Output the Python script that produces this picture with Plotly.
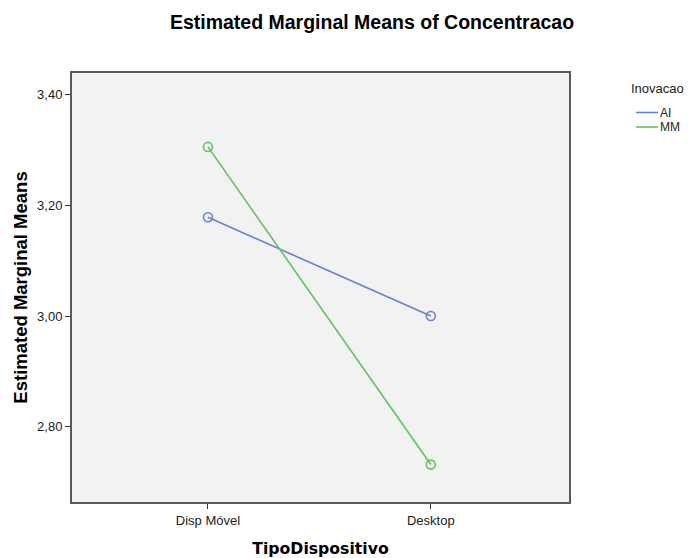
import plotly.graph_objects as go

# Estimated marginal means of Concentracao by device type and innovation group
categories = ["Disp Móvel", "Desktop"]
series_names = ["AI", "MM"]
series_values = {
    "AI": [3.178, 3.000],
    "MM": [3.305, 2.732],
}
series_colors = {"AI": "#6a7fd2", "MM": "#5cc85c"}
y_tick_values = [2.80, 3.00, 3.20, 3.40]
y_tick_labels = ["2,80", "3,00", "3,20", "3,40"]

W, H = 688, 558
ml, mr, mt, mb = 72, 119, 73, 56
pw, ph = W - ml - mr, H - mt - mb

SANS = "Liberation Sans, Arial"

fig = go.Figure()
for name in series_names:
    fig.add_trace(go.Scatter(
        x=[0, 1], y=series_values[name],
        mode="lines+markers", name=name, showlegend=False,
        line=dict(color=series_colors[name], width=1.6),
        marker=dict(symbol="circle-open", size=9, color=series_colors[name],
                    line=dict(width=1.6, color=series_colors[name])),
    ))

# Legend drawn as short line samples with labels, right of the plot area
def px_to_paper_x(px):
    return (px - ml) / pw

def px_to_paper_y(py):
    return 1 - (py - mt) / ph

annotations = [dict(
    text="Inovacao", x=px_to_paper_x(629), y=px_to_paper_y(88),
    xref="paper", yref="paper", xanchor="left", yanchor="middle",
    showarrow=False, font=dict(family=SANS, size=13, color="#222"),
)]
shapes = []
for i, name in enumerate(series_names):
    yy = px_to_paper_y(112.5 + 14.5 * i)
    shapes.append(dict(type="line", xref="paper", yref="paper",
                       x0=px_to_paper_x(636), x1=px_to_paper_x(658), y0=yy, y1=yy,
                       line=dict(color=series_colors[name], width=1.6)))
    annotations.append(dict(
        text=name, x=px_to_paper_x(658), y=yy, xref="paper", yref="paper",
        xanchor="left", yanchor="middle", showarrow=False,
        font=dict(family=SANS, size=12, color="#222"),
    ))

fig.update_layout(
    width=W, height=H,
    margin=dict(l=ml, r=mr, t=mt, b=mb, autoexpand=False),
    paper_bgcolor="white", plot_bgcolor="#f2f2f2",
    title=dict(text="<b>Estimated Marginal Means of Concentracao</b>",
               x=372 / W, xanchor="center", y=1 - 22 / H, yanchor="middle",
               font=dict(family=SANS, size=19.5, color="#000")),
    xaxis=dict(
        range=[-0.61, 1.62], tickvals=[0, 1], ticktext=categories,
        showgrid=False, zeroline=False, automargin=False,
        showline=True, mirror=True, linecolor="#5a5a5a", linewidth=2,
        ticks="outside", ticklen=5, tickcolor="#333", tickwidth=1,
        tickfont=dict(family=SANS, size=13, color="#222"),
        title=dict(text="<b>TipoDispositivo</b>", standoff=20,
                   font=dict(family="DejaVu Sans, Verdana", size=15.7, color="#000")),
    ),
    yaxis=dict(
        range=[2.6645, 3.4383], tickvals=y_tick_values, ticktext=y_tick_labels,
        showgrid=False, zeroline=False, automargin=False,
        showline=True, mirror=True, linecolor="#5a5a5a", linewidth=2,
        ticks="outside", ticklen=5, tickcolor="#333", tickwidth=1,
        tickfont=dict(family=SANS, size=13, color="#222"),
        title=dict(text="<b>Estimated Marginal Means</b>", standoff=5,
                   font=dict(family=SANS, size=18.5, color="#000")),
    ),
    shapes=shapes, annotations=annotations,
)

fig.write_html("out.html")
